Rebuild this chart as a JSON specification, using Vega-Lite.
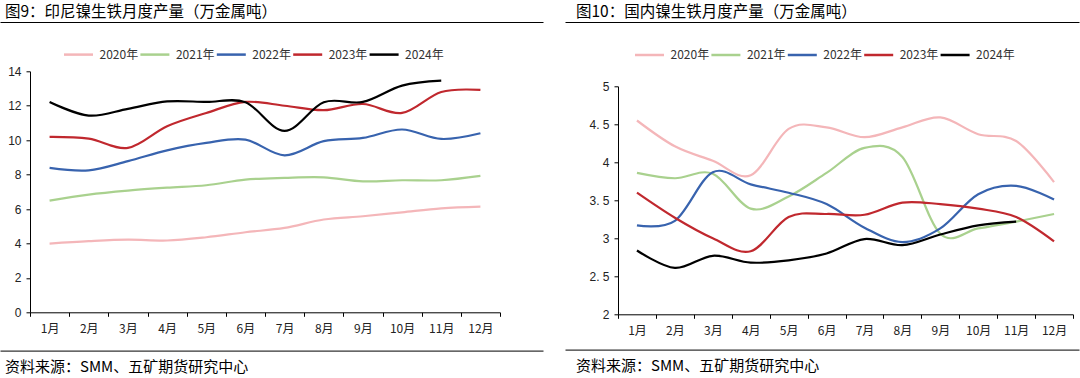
{
  "$schema": "https://vega.github.io/schema/vega-lite/v6.json",
  "background": "white",
  "padding": {"top": 4, "left": 0, "right": 0, "bottom": 0},
  "config": {
    "view": {"stroke": null},
    "font": "Noto Sans CJK SC",
    "axis": {"grid": false, "title": null, "domainColor": "#000", "tickColor": "#000", "tickSize": 4, "domainWidth": 1, "tickWidth": 1, "labelColor": "#222"}
  },
  "datasets": {
    "idn": [
      {"year": "2020年", "month": 1, "value": 3.99}, {"year": "2020年", "month": 2, "value": 4.13}, {"year": "2020年", "month": 3, "value": 4.22}, {"year": "2020年", "month": 4, "value": 4.17}, {"year": "2020年", "month": 5, "value": 4.36}, {"year": "2020年", "month": 6, "value": 4.65}, {"year": "2020年", "month": 7, "value": 4.9}, {"year": "2020年", "month": 8, "value": 5.39}, {"year": "2020年", "month": 9, "value": 5.58}, {"year": "2020年", "month": 10, "value": 5.81}, {"year": "2020年", "month": 11, "value": 6.04}, {"year": "2020年", "month": 12, "value": 6.14},
      {"year": "2021年", "month": 1, "value": 6.49}, {"year": "2021年", "month": 2, "value": 6.84}, {"year": "2021年", "month": 3, "value": 7.07}, {"year": "2021年", "month": 4, "value": 7.24}, {"year": "2021年", "month": 5, "value": 7.38}, {"year": "2021年", "month": 6, "value": 7.71}, {"year": "2021年", "month": 7, "value": 7.81}, {"year": "2021年", "month": 8, "value": 7.84}, {"year": "2021年", "month": 9, "value": 7.61}, {"year": "2021年", "month": 10, "value": 7.67}, {"year": "2021年", "month": 11, "value": 7.67}, {"year": "2021年", "month": 12, "value": 7.92},
      {"year": "2022年", "month": 1, "value": 8.39}, {"year": "2022年", "month": 2, "value": 8.25}, {"year": "2022年", "month": 3, "value": 8.78}, {"year": "2022年", "month": 4, "value": 9.41}, {"year": "2022年", "month": 5, "value": 9.84}, {"year": "2022年", "month": 6, "value": 10.03}, {"year": "2022年", "month": 7, "value": 9.12}, {"year": "2022年", "month": 8, "value": 9.94}, {"year": "2022年", "month": 9, "value": 10.13}, {"year": "2022年", "month": 10, "value": 10.62}, {"year": "2022年", "month": 11, "value": 10.07}, {"year": "2022年", "month": 12, "value": 10.4},
      {"year": "2023年", "month": 1, "value": 10.19}, {"year": "2023年", "month": 2, "value": 10.09}, {"year": "2023年", "month": 3, "value": 9.55}, {"year": "2023年", "month": 4, "value": 10.81}, {"year": "2023年", "month": 5, "value": 11.58}, {"year": "2023年", "month": 6, "value": 12.22}, {"year": "2023年", "month": 7, "value": 12.0}, {"year": "2023年", "month": 8, "value": 11.74}, {"year": "2023年", "month": 9, "value": 12.1}, {"year": "2023年", "month": 10, "value": 11.58}, {"year": "2023年", "month": 11, "value": 12.8}, {"year": "2023年", "month": 12, "value": 12.92},
      {"year": "2024年", "month": 1, "value": 12.22}, {"year": "2024年", "month": 2, "value": 11.43}, {"year": "2024年", "month": 3, "value": 11.82}, {"year": "2024年", "month": 4, "value": 12.25}, {"year": "2024年", "month": 5, "value": 12.22}, {"year": "2024年", "month": 6, "value": 12.2}, {"year": "2024年", "month": 7, "value": 10.54}, {"year": "2024年", "month": 8, "value": 12.2}, {"year": "2024年", "month": 9, "value": 12.22}, {"year": "2024年", "month": 10, "value": 13.17}, {"year": "2024年", "month": 11, "value": 13.46}
    ],
    "chn": [
      {"year": "2020年", "month": 1, "value": 4.55}, {"year": "2020年", "month": 2, "value": 4.21}, {"year": "2020年", "month": 3, "value": 4.02}, {"year": "2020年", "month": 4, "value": 3.83}, {"year": "2020年", "month": 5, "value": 4.44}, {"year": "2020年", "month": 6, "value": 4.46}, {"year": "2020年", "month": 7, "value": 4.33}, {"year": "2020年", "month": 8, "value": 4.46}, {"year": "2020年", "month": 9, "value": 4.59}, {"year": "2020年", "month": 10, "value": 4.37}, {"year": "2020年", "month": 11, "value": 4.28}, {"year": "2020年", "month": 12, "value": 3.74},
      {"year": "2021年", "month": 1, "value": 3.86}, {"year": "2021年", "month": 2, "value": 3.79}, {"year": "2021年", "month": 3, "value": 3.85}, {"year": "2021年", "month": 4, "value": 3.39}, {"year": "2021年", "month": 5, "value": 3.55}, {"year": "2021年", "month": 6, "value": 3.86}, {"year": "2021年", "month": 7, "value": 4.19}, {"year": "2021年", "month": 8, "value": 4.07}, {"year": "2021年", "month": 9, "value": 3.06}, {"year": "2021年", "month": 10, "value": 3.13}, {"year": "2021年", "month": 11, "value": 3.22}, {"year": "2021年", "month": 12, "value": 3.32},
      {"year": "2022年", "month": 1, "value": 3.17}, {"year": "2022年", "month": 2, "value": 3.23}, {"year": "2022年", "month": 3, "value": 3.87}, {"year": "2022年", "month": 4, "value": 3.71}, {"year": "2022年", "month": 5, "value": 3.6}, {"year": "2022年", "month": 6, "value": 3.45}, {"year": "2022年", "month": 7, "value": 3.14}, {"year": "2022年", "month": 8, "value": 2.95}, {"year": "2022年", "month": 9, "value": 3.13}, {"year": "2022年", "month": 10, "value": 3.58}, {"year": "2022年", "month": 11, "value": 3.69}, {"year": "2022年", "month": 12, "value": 3.51},
      {"year": "2023年", "month": 1, "value": 3.6}, {"year": "2023年", "month": 2, "value": 3.27}, {"year": "2023年", "month": 3, "value": 3.0}, {"year": "2023年", "month": 4, "value": 2.83}, {"year": "2023年", "month": 5, "value": 3.28}, {"year": "2023年", "month": 6, "value": 3.32}, {"year": "2023年", "month": 7, "value": 3.31}, {"year": "2023年", "month": 8, "value": 3.47}, {"year": "2023年", "month": 9, "value": 3.45}, {"year": "2023年", "month": 10, "value": 3.39}, {"year": "2023年", "month": 11, "value": 3.28}, {"year": "2023年", "month": 12, "value": 2.96},
      {"year": "2024年", "month": 1, "value": 2.84}, {"year": "2024年", "month": 2, "value": 2.61}, {"year": "2024年", "month": 3, "value": 2.77}, {"year": "2024年", "month": 4, "value": 2.68}, {"year": "2024年", "month": 5, "value": 2.71}, {"year": "2024年", "month": 6, "value": 2.8}, {"year": "2024年", "month": 7, "value": 2.99}, {"year": "2024年", "month": 8, "value": 2.91}, {"year": "2024年", "month": 9, "value": 3.05}, {"year": "2024年", "month": 10, "value": 3.17}, {"year": "2024年", "month": 11, "value": 3.22}
    ]
  },
  "spacing": 22,
  "resolve": {"legend": {"color": "independent"}, "scale": {"color": "independent"}},
  "hconcat": [
    {
      "resolve": {"legend": {"color": "independent"}},
      "spacing": 13.3,
      "vconcat": [
        {
          "width": 513, "height": 1,
          "title": {"text": "图9：印尼镍生铁月度产量（万金属吨）", "anchor": "start", "orient": "top", "fontSize": 15.5, "fontWeight": "normal", "color": "#000", "dx": 5, "offset": 2, "font": "Noto Sans CJK SC"},
          "data": {"values": []},
          "mark": "rule",
          "encoding": {"x": {"field": "k", "type": "quantitative", "scale": {"domain": [0, 1], "range": [0, 543]}, "axis": {"orient": "top", "position": -30, "ticks": false, "labels": false, "domain": true, "domainColor": "#000"}}}
        },
        {
          "width": 470, "height": 241,
          "data": {"name": "idn"},
          "mark": {"type": "line", "interpolate": "cardinal", "strokeWidth": 2.2},
          "encoding": {
            "x": {"field": "month", "type": "quantitative",
              "scale": {"domain": [0.5, 12.5], "nice": false, "zero": false},
              "axis": {"values": [0.5, 1.5, 2.5, 3.5, 4.5, 5.5, 6.5, 7.5, 8.5, 9.5, 10.5, 11.5, 12.5],
                "labelExpr": "datum.value < 12 ? (datum.value + 0.5) + '月' : ''",
                "labelOffset": 19.6, "labelFlush": false, "labelOverlap": false, "labelBound": false,
                "labelFontSize": 12, "labelFont": "Noto Sans CJK SC", "labelPadding": 7, "minExtent": 24.7, "maxExtent": 24.7}},
            "y": {"field": "value", "type": "quantitative",
              "scale": {"domain": [0, 14], "nice": false},
              "axis": {"values": [0, 2, 4, 6, 8, 10, 12, 14], "format": "d", "labelFont": "Liberation Sans", "labelFontSize": 12, "labelPadding": 5, "minExtent": 30, "maxExtent": 30}},
            "color": {"field": "year", "type": "nominal",
              "scale": {"domain": ["2020年", "2021年", "2022年", "2023年", "2024年"], "range": ["#F4B6B9", "#A9D18E", "#3863AE", "#C0282E", "#000000"]},
              "legend": {"orient": "none", "legendX": 30.5, "legendY": -34.7, "direction": "horizontal", "columns": 5, "padding": 2, "title": null,
                "symbolType": "stroke", "symbolSize": 841, "symbolStrokeWidth": 2.5, "labelFontSize": 12, "labelFont": "Noto Sans CJK SC", "labelOffset": 5, "columnPadding": -3.6, "labelColor": "#333"}}
          }
        },
        {
          "width": 513, "height": 1,
          "title": {"text": "资料来源：SMM、五矿期货研究中心", "anchor": "start", "orient": "bottom", "fontSize": 15, "fontWeight": "normal", "color": "#000", "dx": 5, "offset": 8, "font": "Noto Sans CJK SC"},
          "data": {"values": []},
          "mark": "rule",
          "encoding": {"x": {"field": "k", "type": "quantitative", "scale": {"domain": [0, 1], "range": [0, 543]}, "axis": {"orient": "top", "position": -30, "ticks": false, "labels": false, "domain": true, "domainColor": "#000"}}}
        }
      ]
    },
    {
      "resolve": {"legend": {"color": "independent"}},
      "spacing": 13.3,
      "vconcat": [
        {
          "width": 461, "height": 1,
          "title": {"text": "图10：国内镍生铁月度产量（万金属吨）", "anchor": "start", "orient": "top", "fontSize": 15.5, "fontWeight": "normal", "color": "#000", "dx": 11, "offset": 2, "font": "Noto Sans CJK SC"},
          "data": {"values": []},
          "mark": "rule",
          "encoding": {"x": {"field": "k", "type": "quantitative", "scale": {"domain": [0, 1], "range": [0, 514]}, "axis": {"orient": "top", "position": -53, "ticks": false, "labels": false, "domain": true, "domainColor": "#000"}}}
        },
        {
          "width": 455, "height": 228,
          "data": {"name": "chn"},
          "mark": {"type": "line", "interpolate": "cardinal", "strokeWidth": 2.2},
          "encoding": {
            "x": {"field": "month", "type": "quantitative",
              "scale": {"domain": [0.5, 12.5], "nice": false, "zero": false},
              "axis": {"values": [0.5, 1.5, 2.5, 3.5, 4.5, 5.5, 6.5, 7.5, 8.5, 9.5, 10.5, 11.5, 12.5],
                "labelExpr": "datum.value < 12 ? (datum.value + 0.5) + '月' : ''",
                "labelOffset": 18.96, "labelFlush": false, "labelOverlap": false, "labelBound": false,
                "labelFontSize": 12, "labelFont": "Noto Sans CJK SC", "labelPadding": 7, "minExtent": 22, "maxExtent": 22}},
            "y": {"field": "value", "type": "quantitative",
              "scale": {"domain": [2, 5], "nice": false, "zero": false},
              "axis": {"values": [2, 2.5, 3, 3.5, 4, 4.5, 5],
                "labelExpr": "datum.value % 1 == 0 ? format(datum.value, 'd') : replace(format(datum.value, '.1f'), '.', '. ')",
                "labelFont": "Liberation Sans", "labelFontSize": 12, "labelPadding": 5, "minExtent": 53, "maxExtent": 53}},
            "color": {"field": "year", "type": "nominal",
              "scale": {"domain": ["2020年", "2021年", "2022年", "2023年", "2024年"], "range": ["#F4B6B9", "#A9D18E", "#3863AE", "#C0282E", "#000000"]},
              "legend": {"orient": "none", "legendX": 13.5, "legendY": -49.3, "direction": "horizontal", "columns": 5, "padding": 2, "title": null,
                "symbolType": "stroke", "symbolSize": 841, "symbolStrokeWidth": 2.5, "labelFontSize": 12, "labelFont": "Noto Sans CJK SC", "labelOffset": 5, "columnPadding": -3.6, "labelColor": "#333"}}
          }
        },
        {
          "width": 461, "height": 1,
          "title": {"text": "资料来源：SMM、五矿期货研究中心", "anchor": "start", "orient": "bottom", "fontSize": 15, "fontWeight": "normal", "color": "#000", "dx": 11, "offset": 8, "font": "Noto Sans CJK SC"},
          "data": {"values": []},
          "mark": "rule",
          "encoding": {"x": {"field": "k", "type": "quantitative", "scale": {"domain": [0, 1], "range": [0, 514]}, "axis": {"orient": "top", "position": -53, "ticks": false, "labels": false, "domain": true, "domainColor": "#000"}}}
        }
      ]
    }
  ]
}
